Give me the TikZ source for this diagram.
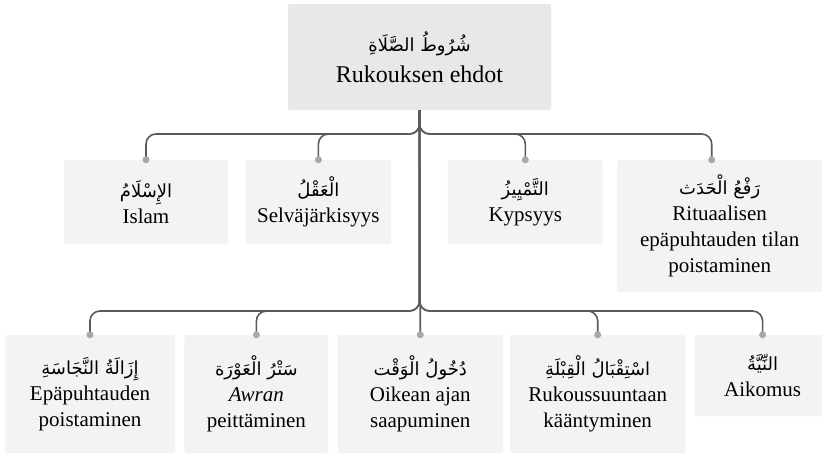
\documentclass[tikz,border=0pt]{standalone}
\usepackage{fontspec}
\setmainfont{Liberation Serif}
\newfontfamily\arabicfont[Script=Arabic]{DejaVu Sans}
\TeXXeTstate=1
\usepackage{xcolor}
\usepackage{tikz}
\usetikzlibrary{positioning}
\definecolor{rootfill}{HTML}{E8E8E8}
\definecolor{boxfill}{HTML}{F3F3F3}
\definecolor{linkgray}{HTML}{5A5A5A}
\definecolor{dotgray}{HTML}{A8A8A8}
\newcommand{\artxt}[1]{{\arabicfont\fontsize{18}{20}\selectfont\beginR #1\endR}}

\begin{document}
\begin{tikzpicture}[
        node distance=9pt,
        rootbox/.style={rectangle, fill=rootfill, rounded corners=2pt, minimum width=263pt, minimum height=106pt, align=center, font=\fontsize{24}{31}\selectfont},
        leaf/.style={rectangle, fill=boxfill, rounded corners=2pt, minimum height=84pt, align=center, font=\fontsize{21}{26}\selectfont},
        link/.style={draw=linkgray, line width=1.6pt, rounded corners=10pt},
        enddot/.style={fill=dotgray}
    ]
        \useasboundingbox (0,0) rectangle (822pt,-453pt);

        % Root
        \node[rootbox] (root) at (419.5pt,-57pt) {\artxt{شُرُوطُ الصَّلَاةِ}\\Rukouksen ehdot};

        % First row
        \node[leaf, minimum width=164pt] (islam) at (146pt,-202pt) {\artxt{الإِسْلَامُ}\\Islam};
        \node[leaf, minimum width=146pt, right=17pt of islam] (selva) {\artxt{الْعَقْلُ}\\Selväjärkisyys};
        \node[leaf, minimum width=155pt, right=56pt of selva] (kyps) {\artxt{التَّمْيِيزُ}\\Kypsyys};
        \node[leaf, minimum width=205pt, minimum height=132pt, right=14pt of kyps.north east, anchor=north west] (rit) {\artxt{رَفْعُ الْحَدَث}\\Rituaalisen\\epäpuhtauden tilan\\poistaminen};

        % Second row
        \node[leaf, minimum width=170pt, minimum height=118pt] (epa) at (90pt,-394pt) {\artxt{إِزَالَةُ النَّجَاسَةِ}\\Epäpuhtauden\\poistaminen};
        \node[leaf, minimum width=144pt, minimum height=118pt, right=of epa] (awran) {\artxt{سَتْرُ الْعَوْرَة}\\\textit{Awran}\\peittäminen};
        \node[leaf, minimum width=165pt, minimum height=118pt, right=of awran] (oikean) {\artxt{دُخُولُ الْوَقْت}\\Oikean ajan\\saapuminen};
        \node[leaf, minimum width=175pt, minimum height=118pt, right=7pt of oikean] (ruk) {\artxt{اسْتِقْبَالُ الْقِبْلَةِ}\\Rukoussuuntaan\\kääntyminen};
        \node[leaf, minimum width=136pt, minimum height=81pt, right=of ruk.north east, anchor=north west] (aik) {\artxt{النِّيَّةُ}\\Aikomus};

        % Buses
        \coordinate (bus1) at (0,-134pt);
        \coordinate (bus2) at (0,-311pt);
        \coordinate (ritin) at ([xshift=-8pt]rit.north);

        % Links
        \foreach \n in {islam,selva,kyps}
            \draw[link] (root.south) |- (\n.north |- bus1) -- (\n.north);
        \draw[link] (root.south) |- (ritin |- bus1) -- (ritin);
        \foreach \n in {epa,awran,ruk,aik}
            \draw[link] (root.south) |- (\n.north |- bus2) -- (\n.north);
        \draw[link] (root.south) -- (oikean.north);

        % End dots
        \foreach \n in {islam,selva,kyps,epa,awran,oikean,ruk,aik}
            \fill[enddot] (\n.north) circle (3.5pt);
        \fill[enddot] (ritin) circle (3.5pt);

\end{tikzpicture}
\end{document}
